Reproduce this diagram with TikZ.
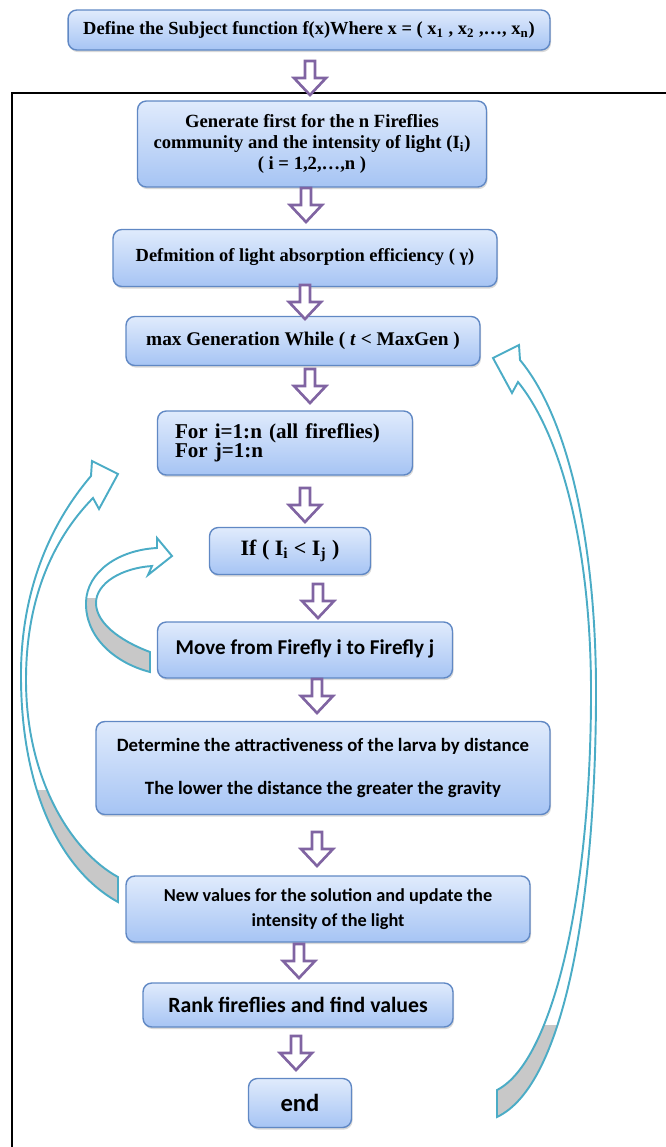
\documentclass[tikz,border=0pt]{standalone}
\usepackage{fontspec}
\setmainfont{Liberation Serif}
\newfontfamily\calib{Carlito}
\usetikzlibrary{shadows}

\definecolor{boxtop}{RGB}{224,235,252}
\definecolor{boxbot}{RGB}{166,196,244}
\definecolor{boxline}{RGB}{96,136,196}
\definecolor{arpurple}{RGB}{128,100,162}
\definecolor{arteal}{RGB}{75,172,198}
\definecolor{argray}{RGB}{200,200,200}

\begin{document}
\begin{tikzpicture}[x=0.02cm, y=-0.02cm,
    bx/.style={draw=boxline, line width=0.8pt, rounded corners=5pt, top color=boxtop, bottom color=boxbot,
        drop shadow={shadow xshift=0.6pt, shadow yshift=-1.2pt, opacity=0.3},
        align=center, inner sep=0pt},
    ser/.style={font=\bfseries\fontsize{#1}{12}\selectfont},
    san/.style={font=\calib\bfseries\fontsize{#1}{13}\selectfont},
    blk/.style={draw=arpurple, line width=1.5pt, fill=white, line join=miter},
    curv/.style={draw=arteal, line width=1.1pt, line join=miter}]
\useasboundingbox (0,0) rectangle (666,1147);
% outer frame
\draw[line width=1.7pt] (12,1147) -- (12,93) -- (666,93);
% steps
\node[bx, ser=10.5, minimum width=9.64cm, minimum height=0.8cm] (def) at (309,30)
    {Define the Subject function f(x)Where x = ( x\textsubscript{1} , x\textsubscript{2} ,…, x\textsubscript{n})};
\node[bx, ser=10.6, minimum width=6.98cm, minimum height=1.72cm] (gen) at (312,144)
    {Generate first for the n Fireflies\\community and the intensity of light (I\textsubscript{i})\\( i = 1,2,…,n )};
\node[bx, ser=10.5, minimum width=7.68cm, minimum height=1.14cm] (gam) at (305,258)
    {\raisebox{3pt}{Defmition of light absorption efficiency ( γ)}};
\node[bx, ser=11, minimum width=7.08cm, minimum height=0.98cm] (maxg) at (303,341)
    {max Generation While ( \textit{t} < MaxGen )};
\node[bx, ser=12, minimum width=5.1cm, minimum height=1.28cm, align=left, text width=4.4cm] (forl) at (285,443)
    {For i=1:n (all fireflies)\\[-1pt]For j=1:n};
\node[bx, ser=12.5, minimum width=3.22cm, minimum height=0.94cm] (cond) at (290,551)
    {If ( I\textsubscript{i} < I\textsubscript{j} )};
\node[bx, san=12, minimum width=5.9cm, minimum height=1.12cm] (move) at (305,650)
    {\raisebox{3pt}{Move from Firefly i to Firefly j}};
\node[bx, san=10.7, minimum width=9.08cm, minimum height=1.86cm] (attr) at (323,768)
    {Determine the attractiveness of the larva by distance\\[12pt]The lower the distance the greater the gravity};
\node[bx, san=10.4, minimum width=8.08cm, minimum height=1.32cm] (upd) at (328,909)
    {New values for the solution and update the\\[1pt]intensity of the light};
\node[bx, san=12.4, minimum width=6.2cm, minimum height=0.88cm] (rank) at (298,1005)
    {Rank fireflies and find values};
\node[bx, san=14, minimum width=2.06cm, minimum height=0.98cm] (fin) at (300,1103)
    {end};
% block arrows between the steps
\foreach \x/\y in {310/61, 306/188, 305/285, 310/369, 305/488, 318/584, 317/679, 317/832, 299/944, 296/1036} {
    \draw[blk] (\x-5,\y) -- (\x+5,\y) -- (\x+5,\y+17) -- (\x+16,\y+17) -- (\x,\y+34)
        -- (\x-16,\y+17) -- (\x-5,\y+17) -- cycle;
}
% back to the while loop
\draw[curv, path picture={\fill[argray] (400,1025) rectangle (640,1130);}]
    (520,360) .. controls (570,420) and (597,550) .. (596,700) .. controls (595,900) and (565,1085) .. (497,1117)
    -- (497,1090) .. controls (552,1062) and (590,900) .. (591,700) .. controls (592,560) and (565,440) .. (518,382)
    -- (512,393) -- (493,358) -- (519,345) -- cycle;
% back to the for loops
\draw[curv, path picture={\fill[argray] (0,790) rectangle (140,920);}]
    (91,476) .. controls (45,530) and (20,600) .. (21,680) .. controls (22,790) and (60,870) .. (118,902)
    -- (118,877) .. controls (72,852) and (26,780) .. (26,680) .. controls (26,600) and (52,540) .. (93,498)
    -- (99,509) -- (118,474) -- (92,461) -- cycle;
% back to the test
\draw[curv, path picture={\fill[argray] (60,598) rectangle (160,680);}]
    (157,548) .. controls (118,550) and (87,572) .. (86,602) .. controls (85,635) and (112,662) .. (150,672)
    -- (150,652) .. controls (118,640) and (96,622) .. (96,603) .. controls (96,583) and (122,568) .. (152,566)
    -- (148,575) -- (172,556) -- (157,538) -- cycle;
\end{tikzpicture}
\end{document}
